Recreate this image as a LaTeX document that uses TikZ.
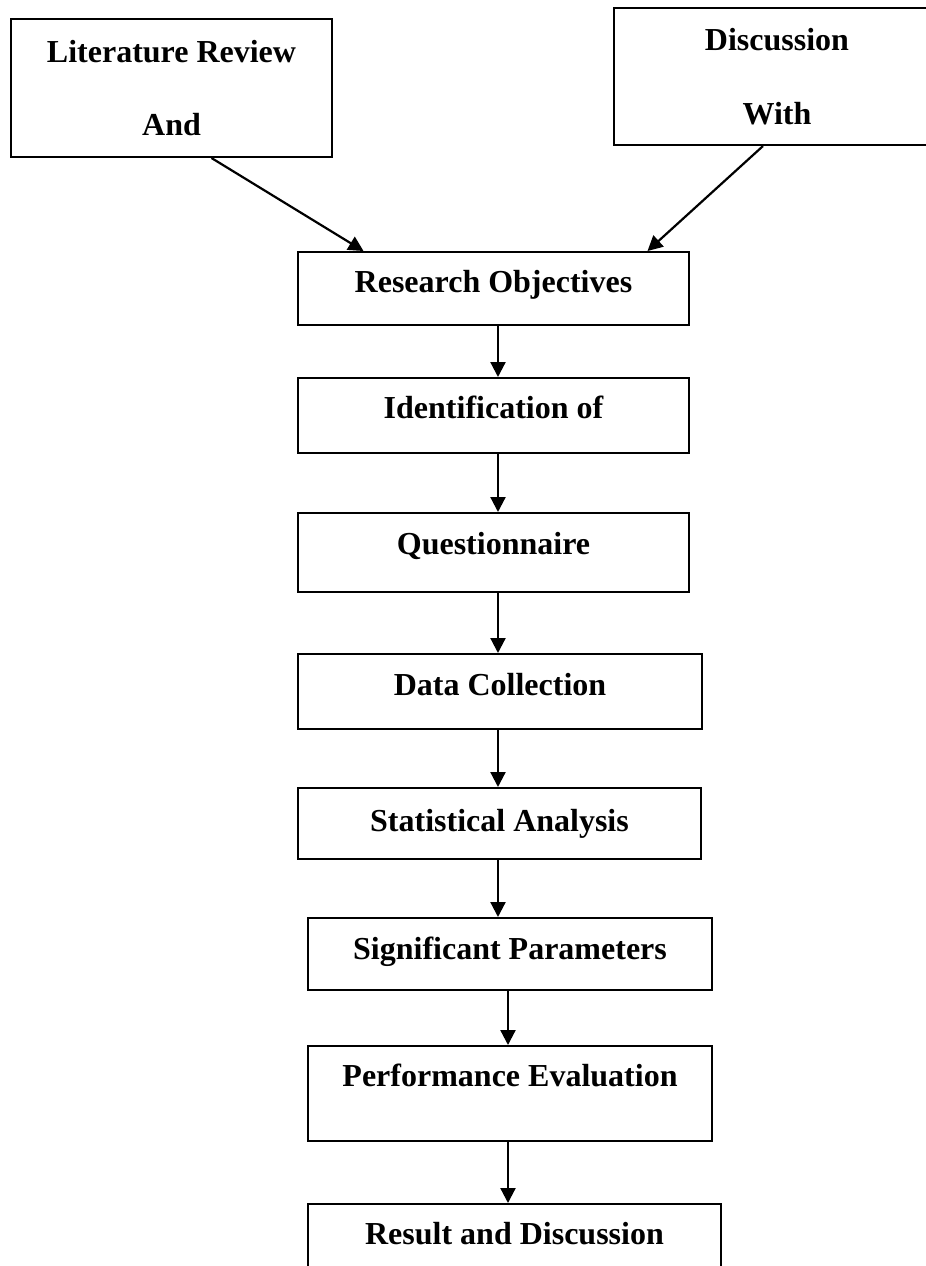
\documentclass[tikz,border=0pt]{standalone}
\usepackage{fontspec}
\setmainfont{Liberation Serif}
\usepackage{tikz}
\usetikzlibrary{calc,arrows.meta,positioning}
\tikzset{
  inputbox/.style 2 args={draw, line width=1pt, anchor=north west, align=center,
    inner sep=0pt, minimum width=#1, minimum height=#2,
    font=\fontsize{16}{36.75}\selectfont\bfseries},
  flowbox/.style n args={3}{draw, line width=1pt, anchor=north west,
    inner sep=0pt, minimum width=#1, text height=#2, text depth=#3,
    font=\fontsize{16}{19}\selectfont\bfseries},
  flowarrow/.style={line width=1.1pt, -{Triangle[width=7.5pt,length=7.5pt]}}
}

\begin{document}
\begin{tikzpicture}[x=0.5pt, y=-0.5pt]
\clip (0,0) rectangle (926,1266);
% two inputs
\node[inputbox={160.5pt}{69pt}] (lit) at (10,18) {Literature Review\\And};
\node[inputbox={163pt}{68.5pt}] (disc) at (613,7) {Discussion\\With};
% main chain
\node[flowbox={195.5pt}{20.35pt}{16.15pt}] (ro) at (297,251) {Research Objectives};
\node[flowbox={195.5pt}{20pt}{17.5pt}] (id) at (297,377) {Identification of};
\node[flowbox={195.5pt}{20.5pt}{19pt}] (q) at (297,512) {Questionnaire};
\node[flowbox={202pt}{20.5pt}{17pt}] (dc) at (297,653) {Data Collection};
\node[flowbox={201.5pt}{21.5pt}{14pt}] (sa) at (297,787) {Statistical Analysis};
\node[flowbox={202pt}{20.5pt}{15.5pt}] (sp) at (307,917) {Significant Parameters};
\node[flowbox={202pt}{20pt}{27.5pt}] (pe) at (307,1045) {Performance Evaluation};
\node[flowbox={206.5pt}{20pt}{30pt}] (rd) at (307,1203) {Result and Discussion};

\draw[flowarrow] ([xshift=20pt]lit.south) -- ([xshift=-65pt]ro.north);
\draw[flowarrow] ([xshift=-7pt]disc.south) -- ([xshift=77pt]ro.north);
\foreach \a/\b/\s in {ro/id/2.25pt,id/q/2.25pt,q/dc/2.25pt,dc/sa/-1pt,sa/sp/-0.75pt,sp/pe/-1pt,pe/rd/-1pt}
{
\draw[flowarrow] ([xshift=\s]\a.south) -- ([xshift=\s]\a.south |- \b.north);
}
\end{tikzpicture}
\end{document}
